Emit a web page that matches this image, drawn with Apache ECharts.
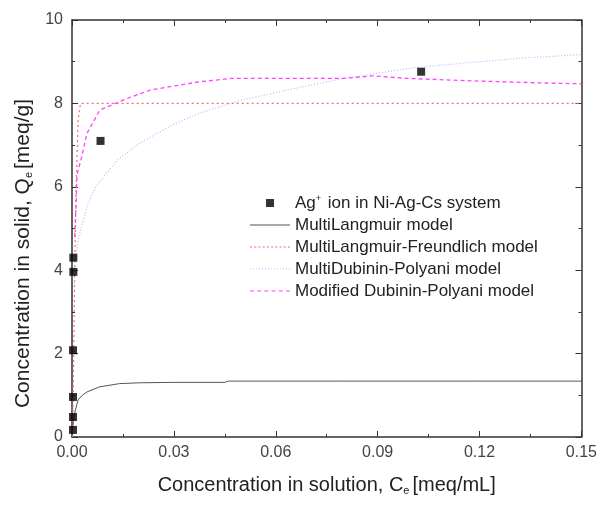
<!DOCTYPE html>
<html>
<head>
<meta charset="utf-8">
<script src="https://cdn.jsdelivr.net/npm/echarts@6/dist/echarts.min.js"></script>
<style>
  html, body { margin: 0; padding: 0; background: #fff; }
  #chart { width: 600px; height: 506px; }
</style>
</head>
<body>
<div id="chart"></div>
<script>
// measured points
const expX = [0.0003, 0.0003, 0.0003, 0.0003, 0.0004, 0.0004, 0.0084, 0.1028];
const expY = [0.17, 0.48, 0.96, 2.08, 3.96, 4.3, 7.1, 8.76];

// model curves
const langX = [0, 0.0003, 0.0006, 0.001, 0.0018, 0.003, 0.0044, 0.008, 0.014, 0.02, 0.03, 0.045, 0.046, 0.08, 0.12, 0.15];
const langY = [0, 0.3, 0.5, 0.65, 0.89, 1.0, 1.08, 1.2, 1.28, 1.3, 1.31, 1.31, 1.34, 1.34, 1.34, 1.34];

const lfX = [0.0002, 0.0005, 0.0008, 0.0012, 0.0018, 0.0025, 0.05, 0.1, 0.15];
const lfY = [0, 2, 4, 6, 7.6, 8.0, 8.0, 8.0, 8.0];

const dpX = [0.0006, 0.001, 0.002, 0.003, 0.0047, 0.007, 0.0135, 0.02, 0.03, 0.0376, 0.05, 0.065, 0.08, 0.1, 0.12, 0.135, 0.15];
const dpY = [3.6, 4.3, 4.8, 5.1, 5.6, 6.0, 6.65, 7.05, 7.5, 7.77, 8.08, 8.35, 8.6, 8.85, 9.0, 9.1, 9.17];

const mdpX = [0.0008, 0.0012, 0.0015, 0.0028, 0.0044, 0.0082, 0.015, 0.023, 0.0376, 0.047, 0.08, 0.0885, 0.0985, 0.118, 0.1385, 0.15];
const mdpY = [4.8, 5.6, 6.3, 6.7, 7.28, 7.84, 8.08, 8.32, 8.52, 8.6, 8.6, 8.66, 8.6, 8.54, 8.49, 8.47];

const xTicks = [0, 0.15, 0.03];
const yTicks = [0, 10, 2];

const names = [
  "Ag+ ion in Ni-Ag-Cs system",
  "MultiLangmuir model",
  "MultiLangmuir-Freundlich model",
  "MultiDubinin-Polyani model",
  "Modified Dubinin-Polyani model",
];

const pairs = (xs, ys) => xs.map((x, i) => [x, ys[i]]);

// legend line icons as little filled rectangles (so dash patterns show)
function dashIcon(on, off) {
  let p = "path://";
  for (let x = 0; x + on <= 40; x += on + off) p += `M${x},0h${on}v1h-${on}z`;
  return p;
}

const font = "'Liberation Sans', Arial, sans-serif";
const axisCommon = {
  axisLine: { show: true, onZero: false, lineStyle: { color: "#333", width: 1.5 } },
  axisTick: { show: true, inside: true, length: 6, lineStyle: { color: "#333" } },
  minorTick: { show: true, splitNumber: 2, length: 3, lineStyle: { color: "#333" } },
  splitLine: { show: false },
};
const subRich = { sub: { fontSize: 11, verticalAlign: "bottom", padding: [10, 3, 0, 0], color: "#222" } };

const chart = echarts.init(document.getElementById("chart"));
chart.setOption({
  animation: false,
  textStyle: { fontFamily: font },
  grid: { left: 72, right: 18, top: 20, bottom: 69 },
  legend: {
    left: 245,
    top: 189,
    orient: "vertical",
    itemWidth: 40,
    itemHeight: 8,
    itemGap: 5,
    textStyle: {
      fontFamily: font,
      fontSize: 17,
      color: "#222",
      rich: {
        sup: { fontSize: 9, verticalAlign: "top", padding: [0, 2, 9, 0], color: "#222" },
      },
    },
    formatter(name) {
      if (name.indexOf("Ag+") === 0) return "Ag{sup|+}" + name.slice(3);
      return name;
    },
    data: [
      { name: names[0], icon: "path://M0,0h1v1h-1z" },
      { name: names[1], icon: dashIcon(40, 0) },
      { name: names[2], icon: dashIcon(2, 2) },
      { name: names[3], icon: dashIcon(1, 2) },
      { name: names[4], icon: dashIcon(4, 3) },
    ],
  },
  xAxis: [
    Object.assign({}, axisCommon, {
      type: "value",
      min: xTicks[0],
      max: xTicks[1],
      interval: xTicks[2],
      position: "bottom",
      name: "Concentration in solution, C{sub|e}[meq/mL]",
      nameLocation: "middle",
      nameGap: 38,
      nameTextStyle: { fontFamily: font, fontSize: 20, color: "#222", rich: subRich },
      axisLabel: {
        fontFamily: font,
        fontSize: 16,
        color: "#444",
        margin: 8,
        formatter: (v) => v.toFixed(2),
      },
    }),
    Object.assign({}, axisCommon, {
      type: "value",
      min: xTicks[0],
      max: xTicks[1],
      interval: xTicks[2],
      position: "top",
      axisLabel: { show: false },
    }),
  ],
  yAxis: [
    Object.assign({}, axisCommon, {
      type: "value",
      min: yTicks[0],
      max: yTicks[1],
      interval: yTicks[2],
      position: "left",
      name: "Concentration in solid, Q{sub|e}[meq/g]",
      nameLocation: "middle",
      nameGap: 38,
      nameTextStyle: {
        fontFamily: font,
        fontSize: 21,
        color: "#222",
        padding: [0, 50, 0, 0], // pushes the title a bit below the centre, like the original
        rich: subRich,
      },
      axisLabel: { fontFamily: font, fontSize: 16, color: "#444", margin: 9 },
    }),
    Object.assign({}, axisCommon, {
      type: "value",
      min: yTicks[0],
      max: yTicks[1],
      interval: yTicks[2],
      position: "right",
      axisLabel: { show: false },
    }),
  ],
  series: [
    {
      name: names[1],
      type: "line",
      data: pairs(langX, langY),
      showSymbol: false,
      symbol: "none",
      lineStyle: { color: "#555", width: 1 },
      itemStyle: { color: "#555" },
      z: 3,
    },
    {
      name: names[2],
      type: "line",
      data: pairs(lfX, lfY),
      showSymbol: false,
      symbol: "none",
      lineStyle: { color: "#ff6a6a", width: 1.2, type: [2, 3] },
      itemStyle: { color: "#ff6a6a" },
      z: 3,
    },
    {
      name: names[3],
      type: "line",
      data: pairs(dpX, dpY),
      showSymbol: false,
      symbol: "none",
      lineStyle: { color: "#b8b8ff", width: 1.2, type: [1, 2] },
      itemStyle: { color: "#b8b8ff" },
      z: 3,
    },
    {
      name: names[4],
      type: "line",
      data: pairs(mdpX, mdpY),
      showSymbol: false,
      symbol: "none",
      lineStyle: { color: "#ff44ff", width: 1.3, type: [4, 3] },
      itemStyle: { color: "#ff44ff" },
      z: 3,
    },
    {
      name: names[0],
      type: "scatter",
      data: pairs(expX, expY),
      symbol: "rect",
      symbolSize: 8,
      itemStyle: { color: "#000" },
      z: 5,
    },
  ],
});
</script>
</body>
</html>
